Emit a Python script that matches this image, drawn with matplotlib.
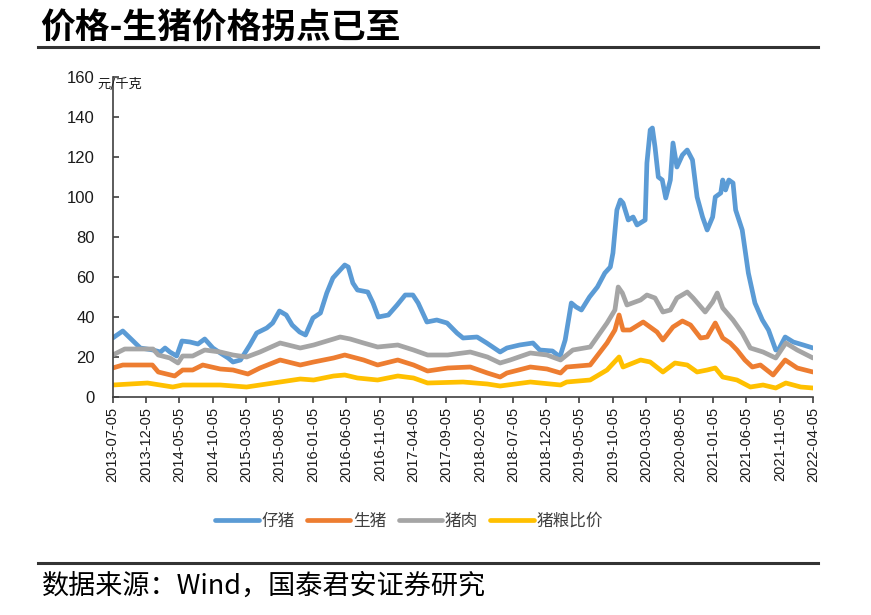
import matplotlib
matplotlib.use("Agg")
import matplotlib.pyplot as plt
import matplotlib.dates as mdates
from matplotlib.lines import Line2D
import pandas as pd

plt.rcParams['font.family'] = ['Liberation Sans', 'Noto Sans CJK SC', 'DejaVu Sans']

# ---------------- data ----------------
piglet_dates = ['2013-07-05', '2013-08-20', '2013-11-08', '2014-01-05', '2014-02-08', '2014-03-01',
                '2014-03-23', '2014-04-23', '2014-05-17', '2014-06-23', '2014-07-29', '2014-08-29',
                '2014-10-05', '2014-11-08', '2014-12-14', '2015-01-05', '2015-02-08', '2015-03-23',
                '2015-04-23', '2015-06-08', '2015-07-05', '2015-08-05', '2015-09-05', '2015-10-02',
                '2015-11-05', '2015-12-02', '2016-01-05', '2016-02-08', '2016-03-08', '2016-04-05',
                '2016-05-08', '2016-05-29', '2016-06-14', '2016-07-05', '2016-07-26', '2016-09-11',
                '2016-10-05', '2016-10-29', '2016-12-14', '2017-01-23', '2017-03-01', '2017-04-05',
                '2017-04-29', '2017-06-08', '2017-07-23', '2017-09-08', '2017-10-23', '2017-11-20',
                '2018-01-23', '2018-03-08', '2018-05-08', '2018-06-08', '2018-08-05', '2018-10-05',
                '2018-11-05', '2019-01-02', '2019-02-05', '2019-03-01', '2019-03-29', '2019-04-20',
                '2019-05-14', '2019-06-20', '2019-07-26', '2019-08-29', '2019-09-23', '2019-10-05',
                '2019-10-23', '2019-11-08', '2019-11-20', '2019-12-14', '2020-01-05', '2020-01-23',
                '2020-02-29', '2020-03-08', '2020-03-23', '2020-04-02', '2020-04-14', '2020-04-29',
                '2020-05-17', '2020-06-02', '2020-06-23', '2020-07-05', '2020-07-23', '2020-08-17',
                '2020-09-08', '2020-10-02', '2020-10-23', '2020-11-17', '2020-12-08', '2021-01-02',
                '2021-01-14', '2021-02-08', '2021-02-17', '2021-03-02', '2021-03-17', '2021-04-05',
                '2021-04-17', '2021-05-17', '2021-06-14', '2021-07-14', '2021-08-17', '2021-09-14',
                '2021-10-17', '2021-10-29', '2021-11-29', '2022-01-05', '2022-02-20', '2022-04-05']
piglet = [29.5, 33, 24.5, 23.5, 22.5, 24.5,
          22.5, 20.5, 28, 27.5, 26.5, 29,
          24.5, 22, 19.5, 17.5, 18.5, 26,
          32, 34.5, 37, 43, 41, 36,
          32.5, 31, 39.5, 42, 52, 59.5,
          63.5, 66, 65, 57, 53.5, 52.5,
          47, 40, 41, 46, 51, 51,
          47, 37.5, 38.5, 37, 32, 29.5,
          30, 27, 22.5, 24.5, 26, 27,
          23.5, 23, 20, 28.5, 47, 45,
          43.5, 50, 55, 62, 65, 72,
          93.5, 98.5, 97, 88.5, 90, 86,
          88.5, 117, 133.5, 134.5, 125, 110,
          108.5, 99.5, 108.5, 127, 115, 121,
          123.5, 118.5, 100, 90, 83.5, 90,
          100, 102, 108.5, 103.5, 108.5, 107,
          93.5, 83.5, 62, 47, 38.5, 33.5,
          23.5, 23.5, 30, 27.5, 26, 24.5]

hog_dates = ['2013-07-05', '2013-08-20', '2014-01-02', '2014-01-29', '2014-04-14', '2014-05-20',
             '2014-07-05', '2014-08-20', '2014-11-08', '2015-01-05', '2015-03-14', '2015-05-08',
             '2015-08-08', '2015-11-08', '2016-01-08', '2016-04-08', '2016-05-29', '2016-08-23',
             '2016-10-26', '2017-01-26', '2017-04-08', '2017-06-11', '2017-09-11', '2017-12-23',
             '2018-03-11', '2018-05-08', '2018-06-08', '2018-09-23', '2018-12-08', '2019-02-08',
             '2019-03-08', '2019-06-23', '2019-09-08', '2019-10-14', '2019-11-02', '2019-11-20',
             '2019-12-23', '2020-02-20', '2020-04-23', '2020-05-20', '2020-07-05', '2020-08-17',
             '2020-09-23', '2020-11-08', '2020-12-08', '2021-01-14', '2021-02-17', '2021-03-23',
             '2021-04-23', '2021-05-29', '2021-07-02', '2021-08-08', '2021-10-05', '2021-11-29',
             '2022-01-23', '2022-04-05']
hog = [14.5, 16, 16, 12.5, 10.5, 13.5,
       13.5, 16, 14, 13.5, 11.5, 14.5,
       18.5, 16, 17.5, 19.5, 21, 18.5,
       16, 18.5, 16, 13, 14.5, 15,
       12, 10, 12, 15, 14, 12,
       15, 16, 27, 33.5, 41, 33.5,
       33.5, 37.5, 32.5, 28.5, 35, 38,
       36, 29.5, 30, 37, 29.5, 27,
       23.5, 18.5, 15, 16, 11, 18.5,
       14.5, 12.5]

pork_dates = ['2013-07-05', '2013-08-29', '2014-01-05', '2014-01-29', '2014-03-23', '2014-04-29',
              '2014-05-20', '2014-07-05', '2014-08-29', '2014-11-08', '2015-01-05', '2015-03-08',
              '2015-05-08', '2015-08-08', '2015-11-08', '2016-01-08', '2016-04-08', '2016-05-08',
              '2016-06-23', '2016-08-23', '2016-10-26', '2017-01-26', '2017-04-08', '2017-06-11',
              '2017-09-11', '2017-12-23', '2018-03-11', '2018-05-08', '2018-06-23', '2018-09-23',
              '2018-12-08', '2019-02-08', '2019-04-05', '2019-06-23', '2019-09-08', '2019-10-14',
              '2019-10-29', '2019-11-17', '2019-12-08', '2020-02-08', '2020-03-08', '2020-04-14',
              '2020-05-20', '2020-06-23', '2020-07-23', '2020-09-08', '2020-10-05', '2020-11-29',
              '2021-01-02', '2021-01-23', '2021-02-17', '2021-04-05', '2021-05-17', '2021-06-23',
              '2021-08-20', '2021-10-17', '2021-12-02', '2022-01-23', '2022-04-05']
pork = [21, 24, 24, 21, 19.5, 17,
        20.5, 20.5, 23.5, 22.5, 21, 20,
        22.5, 27, 24.5, 26, 29, 30,
        29, 27, 25, 26, 23.5, 21,
        21, 22.5, 20, 17, 18.5, 22,
        21, 18.5, 23.5, 25, 37, 43.5,
        55, 52, 46, 48.5, 51, 49.5,
        42.5, 43.5, 49.5, 52.5, 49.5, 42.5,
        47.5, 52, 44.5, 38.5, 32, 24.5,
        22.5, 19.5, 27, 23.5, 19.5]

ratio_dates = ['2013-07-05', '2013-12-11', '2014-04-05', '2014-05-20', '2014-11-08', '2015-03-08',
               '2015-08-08', '2015-11-08', '2016-01-08', '2016-04-08', '2016-05-29', '2016-07-26',
               '2016-10-26', '2017-01-26', '2017-04-08', '2017-06-11', '2017-11-20', '2018-03-11',
               '2018-05-08', '2018-09-23', '2019-02-08', '2019-03-08', '2019-06-23', '2019-09-08',
               '2019-11-02', '2019-11-20', '2020-02-08', '2020-03-23', '2020-05-20', '2020-07-14',
               '2020-09-08', '2020-10-23', '2020-12-08', '2021-01-14', '2021-02-17', '2021-04-23',
               '2021-06-23', '2021-08-20', '2021-10-17', '2021-12-02', '2022-02-08', '2022-04-05']
ratio = [6, 7, 5, 6, 6, 5,
         7.5, 9, 8.5, 10.5, 11, 9.5,
         8.5, 10.5, 9.5, 7, 7.5, 6.5,
         5.5, 7.5, 6, 7.5, 8.5, 13.5,
         20, 15, 18.5, 17.5, 12.5, 17,
         16, 12.5, 13.5, 14.5, 10, 8.5,
         5, 6, 4.5, 7, 5, 4.5]

tick_labels = ['2013-07-05', '2013-12-05', '2014-05-05', '2014-10-05', '2015-03-05', '2015-08-05',
               '2016-01-05', '2016-06-05', '2016-11-05', '2017-04-05', '2017-09-05', '2018-02-05',
               '2018-07-05', '2018-12-05', '2019-05-05', '2019-10-05', '2020-03-05', '2020-08-05',
               '2021-01-05', '2021-06-05', '2021-11-05', '2022-04-05']
y_ticks = [0, 20, 40, 60, 80, 100, 120, 140, 160]

series_names = ['仔猪', '生猪', '猪肉', '猪粮比价']
colors = ['#5B9BD5', '#ED7D31', '#A5A5A5', '#FFC000']

# ---------------- figure ----------------
W, H = 871, 615
fig = plt.figure(figsize=(W / 100, H / 100), dpi=100)
ax = fig.add_axes([112.7 / W, 1 - 397 / H, (813 - 112.7) / W, (397 - 77) / H])

series = [(piglet_dates, piglet), (hog_dates, hog), (pork_dates, pork), (ratio_dates, ratio)]
handles = []
for (d, v), name, c in zip(series, series_names, colors):
    h, = ax.plot(pd.to_datetime(d), v, color=c, lw=3.4, solid_joinstyle='round',
                 solid_capstyle='round', label=name)
    handles.append(h)
ax.set_xlim(pd.Timestamp(tick_labels[0]), pd.Timestamp(tick_labels[-1]))
ax.set_ylim(0, 160)

ax.set_xticks(pd.to_datetime(tick_labels))
ax.set_xticklabels(tick_labels, rotation=90, fontsize=10.5, color='#1a1a1a')
ax.set_yticks(y_ticks)
ax.set_yticklabels([str(v) for v in y_ticks], fontsize=12, color='#1a1a1a')

for s in ['top', 'right']:
    ax.spines[s].set_visible(False)
for s in ['left', 'bottom']:
    ax.spines[s].set_color('#404040')
    ax.spines[s].set_linewidth(1.2)
ax.tick_params(axis='y', direction='in', length=4, width=1.2, color='#404040', pad=13)
ax.tick_params(axis='x', direction='out', length=4, width=1.2, color='#404040', pad=3)

# unit label
fig.text(97 / W, 1 - 84 / H, '元/千克', fontsize=9.5, color='#1a1a1a',
         family=['Noto Sans CJK SC', 'DejaVu Sans'], va='center', ha='left')

# legend
leg = fig.legend(handles=handles, labels=series_names, loc='center',
                 bbox_to_anchor=(409 / W, 1 - 521 / H), ncol=4, frameon=False,
                 prop={'family': ['Noto Sans CJK SC', 'DejaVu Sans'], 'size': 12},
                 handlelength=2.6, handletextpad=0.15, columnspacing=0.75)
for t in leg.get_texts():
    t.set_color('#404040')

# title and footer
fig.text(40 / W, 1 - 28 / H, '价格-生猪价格拐点已至', fontsize=25, fontweight='bold',
         family=['Noto Sans CJK SC', 'DejaVu Sans'], va='center', ha='left', color='black')
fig.add_artist(Line2D([38 / W, 818 / W], [1 - 47 / H, 1 - 47 / H], color='#333333', lw=2.2,
                      transform=fig.transFigure))
fig.add_artist(Line2D([38 / W, 818 / W], [1 - 563 / H, 1 - 563 / H], color='#333333', lw=2.2,
                      transform=fig.transFigure))
fig.text(42 / W, 1 - 586 / H, '数据来源：Wind，国泰君安证券研究', fontsize=19.5,
         family=['Noto Sans CJK SC', 'DejaVu Sans'], va='center', ha='left', color='black')

fig.savefig('out.png', dpi=100)
